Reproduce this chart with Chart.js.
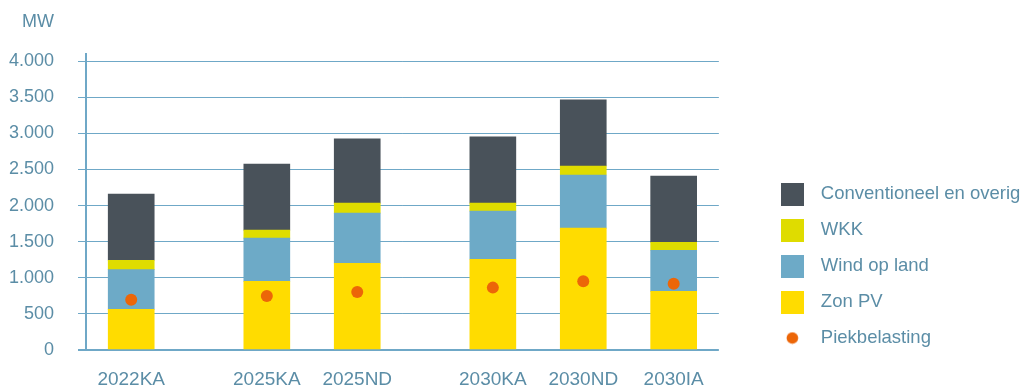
<!DOCTYPE html>
<html><head><meta charset="utf-8">
<script src="https://cdn.jsdelivr.net/npm/chart.js@4.4.1/dist/chart.umd.min.js"></script>
<style>html,body{margin:0;padding:0;background:#fff}</style>
</head><body>
<canvas id="c" width="1023" height="390"></canvas>
<script>
// ---- data ----
const groups = [['2022KA'], ['2025KA', '2025ND'], ['2030KA', '2030ND', '2030IA']];
const categories = ['2022KA', '2025KA', '2025ND', '2030KA', '2030ND', '2030IA'];
const zonPV         = [562, 951, 1201, 1257, 1688, 812];
const windOpLand    = [552, 598, 695, 667, 736, 570];
const wkk           = [129, 111, 139, 111, 125, 111];
const conventioneel = [917, 916, 889, 916, 916, 917];
const piekbelasting = [697, 748, 803, 864, 951, 919];
const yTickValues = [0, 500, 1000, 1500, 2000, 2500, 3000, 3500, 4000];
const yTickLabels = ['0', '500', '1.000', '1.500', '2.000', '2.500', '3.000', '3.500', '4.000'];
const unitLabel = 'MW';
const seriesNames = ['Zon PV', 'Wind op land', 'WKK', 'Conventioneel en overig', 'Piekbelasting'];

// ---- styles ----
const FONT = "'Liberation Sans', Arial, sans-serif";
const TEXT = '#5b8da6';
const GRID = '#6fa8c7';
const COLORS = ['#ffdc00', '#6daac7', '#dfdc00', '#49525a', '#ec6608'];

// slots: empty categories create the gaps between groups
const slots = [''];
groups.forEach((g, gi) => {
  if (gi > 0) slots.push('', '');
  g.forEach((c, ci) => { if (ci > 0) slots.push(''); slots.push(c); });
});
slots.push('');
const expand = vals => slots.map(l => l ? vals[categories.indexOf(l)] : null);

function swatch(color, circle) {
  const c = document.createElement('canvas');
  const s = circle ? 13 : 23;
  c.width = s; c.height = s;
  const x = c.getContext('2d');
  x.fillStyle = color;
  if (circle) { x.beginPath(); x.arc(s / 2, s / 2, 5.8, 0, Math.PI * 2); x.fill(); }
  else x.fillRect(0, 0, s, s);
  return c;
}
const swatches = COLORS.map((c, i) => swatch(c, i === 4));
const legendRank = [3, 2, 1, 0, 4];

const barDs = (i, vals) => ({
  type: 'bar', label: seriesNames[i], data: expand(vals),
  backgroundColor: COLORS[i], borderWidth: 0, barThickness: 46
});

const unitPlugin = {
  id: 'unitLabel',
  afterDraw(chart) {
    const ctx = chart.ctx, y = chart.scales.y;
    ctx.save();
    ctx.font = '18px ' + FONT;
    ctx.fillStyle = TEXT;
    ctx.textAlign = 'right';
    ctx.textBaseline = 'alphabetic';
    ctx.fillText(unitLabel, y.right - 8 - 24, 27);
    ctx.restore();
  }
};

new Chart(document.getElementById('c'), {
  data: {
    labels: slots,
    datasets: [
      barDs(0, zonPV), barDs(1, windOpLand), barDs(2, wkk), barDs(3, conventioneel),
      { type: 'line', label: seriesNames[4], data: expand(piekbelasting), showLine: false,
        pointRadius: 6, pointHoverRadius: 6, pointBackgroundColor: COLORS[4], pointBorderWidth: 0,
        backgroundColor: COLORS[4], borderColor: COLORS[4], order: -1, stack: 'piek' }
    ]
  },
  options: {
    responsive: false, animation: false, events: [],
    layout: { padding: { top: 54, right: -7.4, bottom: 0, left: 0 } },
    scales: {
      x: {
        type: 'category', stacked: true, offset: false,
        grid: { display: false, drawTicks: false }, border: { display: false },
        ticks: { autoSkip: false, maxRotation: 0, padding: 18, color: TEXT, font: { size: 19, family: FONT } },
        afterFit(s) { s.height = 40; }
      },
      y: {
        stacked: true, min: 0, max: 4100,
        afterBuildTicks(s) { s.ticks = yTickValues.map(v => ({ value: v })); },
        ticks: { padding: 24, color: TEXT, font: { size: 18, family: FONT },
          callback: (v, i) => yTickLabels[i] },
        grid: { color: GRID, tickLength: 8, lineWidth: c => (c.tick && c.tick.value === 0) ? 2 : 1 },
        border: { display: true, color: GRID, width: 2 },
        afterFit(s) { s.width = 86; }
      },
      spacer: {
        position: 'right', display: true,
        grid: { display: false, drawTicks: false }, border: { display: false }, ticks: { display: false },
        afterFit(s) { s.width = 36.75; }
      }
    },
    plugins: {
      tooltip: { enabled: false },
      legend: {
        position: 'right', align: 'start', maxWidth: 400,
        title: { display: true, text: '', font: { size: 1, lineHeight: 1 }, padding: { top: 112.25, bottom: 0 } },
        labels: {
          usePointStyle: true, pointStyleWidth: 38.5, padding: 17.5, color: TEXT,
          font: { size: 18.5, family: FONT },
          generateLabels(chart) {
            const items = Chart.defaults.plugins.legend.labels.generateLabels(chart);
            items.forEach(it => { it.pointStyle = swatches[it.datasetIndex]; it.fontColor = TEXT; });
            return items;
          },
          sort: (a, b) => legendRank[a.datasetIndex] - legendRank[b.datasetIndex]
        }
      }
    }
  },
  plugins: [unitPlugin]
});
</script>
</body></html>
